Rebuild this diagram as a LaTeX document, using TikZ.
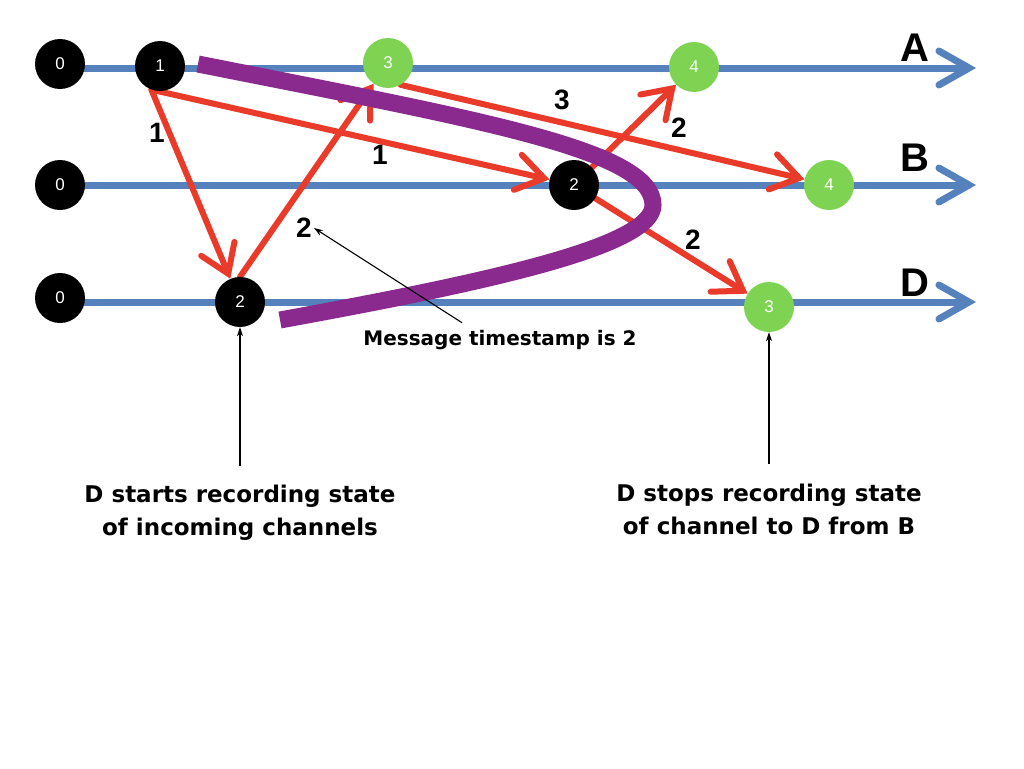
\documentclass[tikz,border=0pt]{standalone}
\usepackage{fontspec}
\setmainfont{Liberation Sans}
\newfontfamily\notefont{DejaVu Sans}
\usetikzlibrary{arrows.meta, positioning}

\definecolor{LineBlue}{HTML}{5581BD}
\definecolor{MsgRed}{HTML}{EA3A2A}
\definecolor{CutPurple}{HTML}{8A2A8E}
\definecolor{EventGreen}{HTML}{7ED452}

\tikzstyle{event_black}=[circle,
        minimum size=50pt,
        inner sep=0pt,
        fill=black,
        text=white,
        font=\fontsize{17}{17}\selectfont]
\tikzstyle{event_green}=[event_black, fill=EventGreen]
\tikzstyle{time_line}=[line width=7pt, draw=LineBlue, line cap=round,
        -{Straight Barb[length=30pt, width=34pt, line cap=round]}]
\tikzstyle{msg_arrow}=[line width=6pt, draw=MsgRed, line cap=round,
        -{Straight Barb[length=27pt, width=36pt, line cap=round]}]
\tikzstyle{cut_line}=[line width=17pt, draw=CutPurple]
\tikzstyle{note_arrow}=[line width=1.1pt, -{Stealth[length=9pt, width=6pt]}]
\tikzstyle{stamp}=[font=\bfseries\fontsize{28}{28}\selectfont, inner sep=2pt]
\tikzstyle{proc_name}=[font=\bfseries\fontsize{40}{40}\selectfont, inner sep=0pt]
\tikzstyle{note_text}=[font=\notefont\bfseries\fontsize{23}{33}\selectfont, align=center]

\pgfdeclarelayer{lines}
\pgfdeclarelayer{cut}
\pgfsetlayers{lines,cut,main}

\begin{document}
\begin{tikzpicture}[x=1pt, y=-1pt]
    \useasboundingbox (0,0) rectangle (1024,768);

    \foreach \p/\y in {A/64, B/185, D/298} {
        \node at (60, \y) (\p0) [event_black] {0};
    }
    \node at (160, 66) (A1) [event_black] {1};
    \node at (388, 63) (A3) [event_green] {3};
    \node at (694, 67) (A4) [event_green] {4};
    \node at (574, 185) (B2) [event_black] {2};
    \node at (829, 185) (B4) [event_green] {4};
    \node at (240, 302) (D2) [event_black] {2};
    \node at (769, 307) (D3) [event_green] {3};

    \begin{pgfonlayer}{lines}
    \fill[white] (0,0) rectangle (1024,768);
    \foreach \p/\y in {A/68, B/185, D/302} {
        \coordinate (\p start) at (60, \y);
        \coordinate (\p end) at (976, \y);
        \draw[time_line] (\p start) -- (\p end);
    }

    \draw[msg_arrow] (A1.-110) -- (D2);
    \draw[msg_arrow] (A1.-110) -- (B2);
    \draw[msg_arrow] (D2.north) -- (A3);
    \draw[msg_arrow] (A3.-60) -- (B4);
    \draw[msg_arrow] (B2) -- (A4);
    \draw[msg_arrow] (B2) -- (D3);
    \end{pgfonlayer}

    \begin{pgfonlayer}{cut}
    \draw[cut_line] (198,64) .. controls (480,120) and (653,150) .. (653,205)
        .. controls (653,245) and (500,280) .. (280,320);
    \end{pgfonlayer}

    \node at (915, 48) (nameA) [proc_name] {A};
    \node at (915, 158) (nameB) [proc_name] {B};
    \node at (915, 283) (nameD) [proc_name] {D};

    \node at (157, 133) (s1) [stamp] {1};
    \node at (380, 155) (s2) [stamp] {1};
    \node at (304, 228) (s3) [stamp] {2};
    \node at (562, 100) (s4) [stamp] {3};
    \node at (679, 128) (s5) [stamp] {2};
    \node at (693, 240) (s6) [stamp] {2};

    \node at (500, 340) (msgnote) [note_text, font=\notefont\bfseries\fontsize{20}{24}\selectfont] {Message timestamp is 2};
    \node at (240, 513) (startnote) [note_text] {D starts recording state\\of incoming channels};
    \node at (769, 509) (stopnote) [note_text] {D stops recording state\\of channel to D from B};

    \draw[note_arrow] ([xshift=-38pt, yshift=4pt]msgnote.north) -- (s3.east);
    \draw[note_arrow] ([yshift=16pt]startnote.north) -- (D2);
    \draw[note_arrow] ([yshift=16pt]stopnote.north) -- (D3);

\end{tikzpicture}
\end{document}
